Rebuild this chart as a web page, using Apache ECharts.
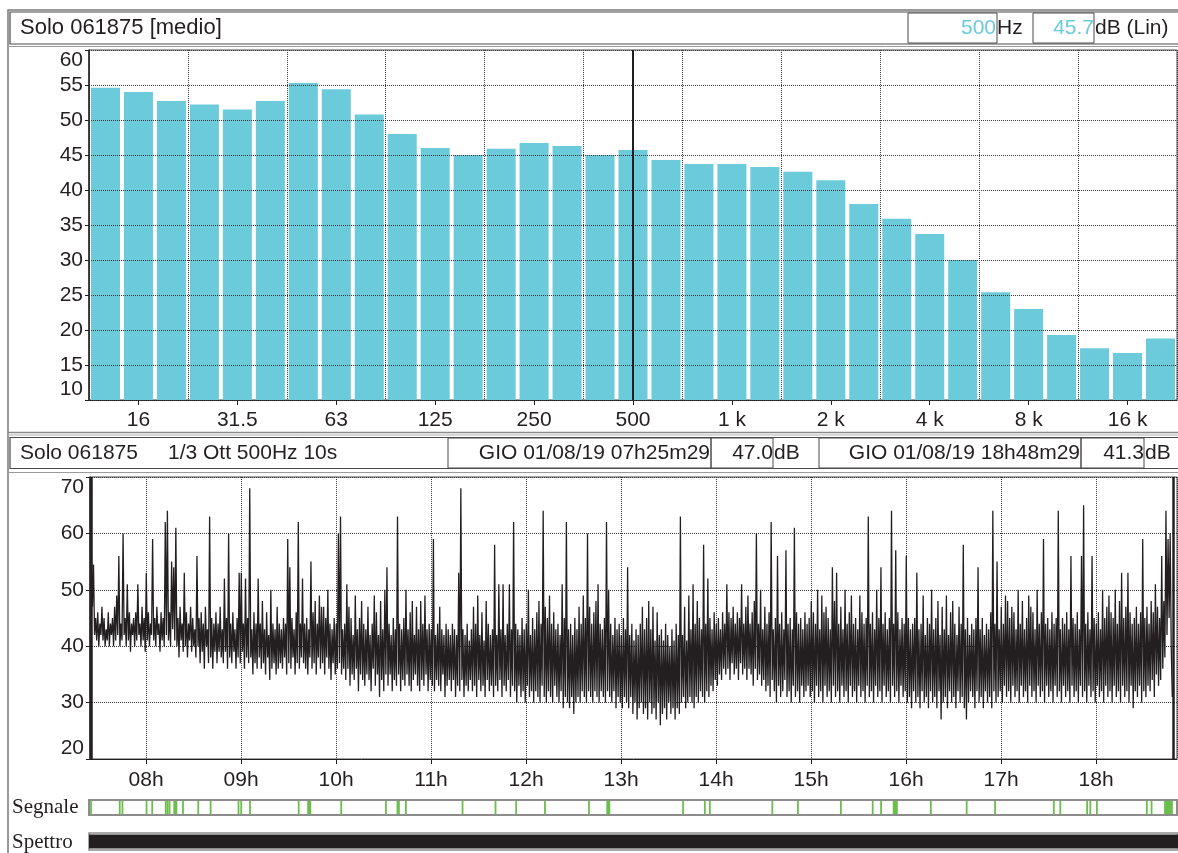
<!DOCTYPE html>
<html>
<head>
<meta charset="utf-8">
<title>Solo 061875</title>
<script src="https://cdn.jsdelivr.net/npm/echarts@6/dist/echarts.min.js"></script>
<style>
  html, body { margin: 0; padding: 0; background: #fff; }
  #main { width: 1178px; height: 853px; }
</style>
</head>
<body>
<div id="main"></div>
<script>
// spettro medio 1/3 ottava
const bande = ['12.5', '16', '20', '25', '31.5', '40', '50', '63', '80', '100', '125', '160', '200', '250', '315', '400',
  '500', '630', '800', '1 k', '1.25 k', '1.6 k', '2 k', '2.5 k', '3.15 k', '4 k', '5 k', '6.3 k', '8 k', '10 k', '12.5 k', '16 k', '20 k'];
const livelliMedi = [54.6, 54.0, 52.7, 52.2, 51.5, 52.7, 55.3, 54.4, 50.8, 48.0, 46.0, 45.0, 45.9, 46.7, 46.3, 45.0,
  45.7, 44.3, 43.7, 43.7, 43.3, 42.6, 41.4, 38.0, 35.9, 33.7, 30.0, 25.4, 23.0, 19.3, 17.4, 16.7, 18.8];
const cursoreBanda = '500';
const cursoreHz = '500';
const cursoreDb = '45.7';

// andamento 1/3 ott 500Hz (un valore ogni 40 s)
const inizio = '07:25:29';
const fine = '18:48:29';
const passoSec = 40;
const livelliTempo = [
  56.5, 47, 54.5, 42, 45, 41, 46, 40, 44, 42, 47, 41, 45, 40, 43, 41, 46, 40, 44, 42,
  45, 40, 47, 41, 49, 42, 56, 40, 44, 41, 60, 42, 45, 40, 51, 41, 46, 39, 44, 42,
  45, 40, 46, 41, 51, 42, 44, 40, 47, 41, 45, 39, 53, 41, 46, 40, 44, 42, 59, 41,
  45, 40, 47, 42, 44, 39, 46, 41, 45, 40, 62, 42, 64, 41, 46, 40, 55, 43, 54, 41,
  61, 40, 45, 38, 47, 41, 44, 39, 53, 40, 46, 38, 44, 41, 47, 39, 45, 40, 43, 38,
  56, 40, 45, 37, 46, 39, 44, 36, 47, 40, 43, 37, 63, 38, 45, 36, 44, 39, 46, 37,
  44, 39, 47, 38, 43, 37, 52, 39, 45, 36, 60, 38, 44, 37, 46, 39, 43, 36, 45, 38,
  53, 37, 53, 39, 44, 36, 52, 38, 45, 37, 68, 38, 43, 35, 46, 37, 44, 36, 52, 38,
  44, 36, 48, 37, 43, 35, 46, 38, 42, 34, 50, 36, 44, 37, 43, 35, 47, 36, 44, 37,
  43, 36, 45, 38, 44, 35, 59, 37, 54, 36, 45, 38, 43, 35, 46, 37, 62, 36, 44, 38,
  52, 37, 44, 36, 45, 35, 43, 38, 55, 36, 46, 37, 48, 35, 44, 38, 49, 36, 47, 37,
  47, 35, 45, 38, 50, 36, 44, 34, 43, 37, 45, 35, 44, 36, 60, 37, 63, 35, 43, 36,
  44, 34, 51, 36, 47, 33, 45, 35, 42, 34, 49, 36, 43, 32, 45, 35, 48, 34, 44, 33,
  43, 35, 47, 34, 42, 32, 44, 36, 49, 33, 46, 35, 42, 31, 48, 34, 43, 32, 50, 35,
  54, 33, 44, 35, 42, 32, 45, 34, 43, 33, 63, 35, 44, 32, 43, 34, 45, 33, 50, 35,
  43, 33, 46, 32, 48, 34, 42, 35, 47, 33, 43, 32, 48, 34, 44, 33, 49, 35, 43, 32,
  44, 34, 43, 33, 59, 32, 42, 34, 44, 33, 47, 32, 43, 35, 42, 31, 44, 33, 43, 34,
  42, 32, 44, 34, 43, 31, 42, 33, 53, 32, 68, 34, 43, 31, 42, 33, 44, 32, 41, 34,
  43, 32, 47, 33, 44, 31, 49, 34, 42, 32, 46, 33, 41, 31, 48, 34, 44, 32, 42, 33,
  43, 31, 58, 33, 42, 32, 51, 34, 43, 31, 51, 33, 42, 32, 44, 34, 51, 31, 43, 33,
  62, 32, 44, 30, 43, 33, 42, 31, 45, 32, 43, 30, 44, 33, 50, 31, 42, 32, 45, 30,
  43, 32, 46, 31, 48, 30, 44, 33, 64, 31, 47, 30, 45, 32, 49, 31, 44, 30, 46, 33,
  43, 31, 44, 30, 42, 32, 51, 29, 45, 31, 62, 30, 43, 29, 44, 31, 42, 28, 45, 30,
  43, 31, 47, 30, 44, 32, 49, 31, 45, 30, 60, 32, 47, 31, 44, 30, 46, 32, 48, 31,
  51, 30, 44, 32, 43, 31, 45, 30, 62, 32, 50, 31, 44, 30, 42, 32, 45, 29, 43, 31,
  44, 30, 42, 29, 45, 31, 43, 30, 54, 29, 42, 31, 44, 28, 41, 30, 43, 27, 42, 29,
  44, 30, 47, 28, 43, 29, 45, 27, 48, 30, 43, 28, 47, 29, 41, 27, 46, 30, 42, 26,
  43, 28, 41, 29, 44, 27, 42, 30, 40, 28, 43, 29, 41, 27, 44, 29, 42, 28, 63, 30,
  42, 31, 47, 29, 41, 30, 49, 31, 43, 30, 51, 29, 44, 31, 48, 30, 45, 32, 43, 31,
  58, 30, 44, 32, 52, 31, 45, 33, 43, 32, 46, 34, 44, 33, 45, 35, 43, 34, 46, 36,
  44, 35, 51, 36, 46, 34, 45, 37, 47, 35, 44, 36, 46, 34, 45, 37, 51, 35, 44, 36,
  47, 34, 49, 36, 44, 35, 46, 33, 48, 36, 60, 34, 44, 35, 50, 33, 43, 34, 47, 32,
  44, 33, 46, 31, 62, 34, 43, 32, 45, 30, 56, 33, 44, 31, 46, 32, 43, 34, 57, 31,
  44, 32, 45, 30, 43, 33, 61, 31, 46, 32, 44, 30, 45, 33, 43, 31, 46, 32, 44, 33,
  45, 31, 48, 32, 46, 30, 44, 33, 50, 31, 43, 32, 49, 30, 46, 33, 47, 31, 45, 32,
  43, 30, 54, 33, 48, 31, 53, 32, 44, 30, 47, 33, 43, 31, 50, 32, 44, 30, 46, 33,
  49, 31, 44, 32, 45, 30, 43, 33, 49, 31, 46, 32, 44, 30, 45, 33, 63, 31, 44, 32,
  46, 30, 43, 33, 50, 31, 45, 32, 54, 30, 44, 33, 46, 31, 43, 32, 45, 30, 64, 33,
  44, 31, 57, 32, 46, 30, 43, 33, 45, 31, 44, 32, 56, 30, 45, 31, 43, 29, 44, 32,
  45, 30, 53, 31, 43, 29, 44, 32, 49, 30, 42, 31, 45, 29, 44, 32, 50, 30, 43, 31,
  45, 29, 48, 32, 42, 27, 47, 30, 43, 31, 49, 29, 42, 32, 46, 30, 48, 31, 44, 29,
  42, 32, 47, 30, 44, 31, 58, 29, 43, 27, 45, 30, 42, 32, 44, 31, 43, 29, 45, 32,
  54, 30, 43, 31, 45, 29, 42, 32, 44, 30, 43, 31, 46, 29, 64, 32, 44, 30, 55, 31,
  43, 32, 47, 30, 44, 33, 49, 31, 48, 32, 45, 30, 47, 33, 46, 31, 43, 32, 50, 30,
  44, 33, 48, 31, 43, 32, 45, 30, 49, 33, 47, 31, 46, 32, 43, 30, 50, 33, 44, 31,
  46, 32, 59, 30, 44, 33, 45, 31, 43, 32, 46, 30, 44, 33, 45, 31, 64, 32, 43, 30,
  45, 33, 44, 31, 46, 32, 43, 30, 56, 33, 45, 31, 44, 32, 46, 30, 43, 33, 56, 31,
  65, 32, 44, 30, 46, 33, 43, 31, 56, 32, 45, 30, 44, 33, 46, 31, 43, 32, 50, 30,
  45, 33, 47, 31, 49, 32, 46, 30, 45, 33, 50, 31, 44, 32, 48, 30, 53, 33, 45, 31,
  47, 32, 53, 30, 46, 33, 44, 29, 45, 32, 47, 31, 44, 33, 46, 30, 59, 32, 45, 31,
  47, 33, 44, 32, 48, 34, 46, 31, 51, 35, 47, 33, 45, 34, 56, 36, 48, 38, 64, 42,
  59, 45, 60, 40, 31
];
const leqInizio = '47.0';
const leqFine = '41.3';

// eventi segnale: [ora inizio, durata in s]
const segnale = [
  ['07:25:46', 10], ['07:43:54', 10], ['07:45:36', 10], ['08:00:49', 10], ['08:04:25', 10],
  ['08:12:57', 10], ['08:14:09', 10], ['08:15:21', 10], ['08:17:50', 150], ['08:23:49', 10],
  ['08:33:28', 10], ['08:41:15', 10], ['08:58:52', 10], ['09:00:34', 10], ['09:06:08', 10],
  ['09:36:49', 10], ['09:42:18', 150], ['10:03:40', 10], ['10:31:54', 10], ['10:39:09', 10],
  ['10:40:05', 10], ['10:44:28', 10], ['11:20:13', 10], ['11:41:03', 10], ['11:54:04', 10],
  ['12:12:14', 10], ['12:40:01', 10], ['12:51:02', 150], ['13:39:22', 10], ['13:53:07', 10],
  ['13:56:16', 10], ['14:35:42', 10], ['14:51:50', 10], ['15:18:57', 10], ['15:39:02', 10],
  ['15:44:20', 10], ['15:51:47', 190], ['16:15:43', 10], ['16:38:20', 10], ['16:56:15', 10],
  ['17:33:20', 10], ['17:37:25', 10], ['17:54:20', 10], ['17:56:20', 10], ['18:00:30', 10],
  ['18:32:00', 10], ['18:35:00', 10], ['18:43:00', 330]
];
// spettro registrato: [inizio, fine]
const spettro = [['07:24:36', '18:51:08']];
const asseInizio = '07:24:36';
const asseFine = '18:51:08';

function ora(s) {
  const p = s.split(':').map(Number);
  return new Date(2019, 7, 1, p[0], p[1], p[2]).getTime();
}

const t0 = ora(inizio);
const serieTempo = livelliTempo.map((v, i) => [t0 + i * passoSec * 1000, v]);
const serieSegnale = segnale.map(e => [ora(e[0]), ora(e[0]) + e[1] * 1000]);
const serieSpettro = spettro.map(e => [ora(e[0]), ora(e[1])]);

const NERO = '#231f20';
const CIANO = '#6ccbdb';
const FONT = '"Liberation Sans", Arial, sans-serif';
const dotted = { show: true, lineStyle: { color: '#3a3a3a', width: 1, type: [1, 1] } };
const ogniTerza = (i) => i % 3 === 1;

function fascia(fill, minW, inset) {
  return function (params, api) {
    const a = api.coord([api.value(0), 0]);
    const b = api.coord([api.value(1), 1]);
    let w = b[0] - a[0];
    let x = a[0];
    if (w < minW) { x -= (minW - w) / 2; w = minW; }
    return {
      type: 'rect',
      shape: { x: x, y: b[1] + inset, width: w, height: a[1] - b[1] - 2 * inset },
      style: { fill: fill }
    };
  };
}

function testo(t, x, y, opts) {
  opts = opts || {};
  return {
    type: 'text', z: 20,
    style: {
      text: t, x: x, y: y,
      font: opts.font || ('21px ' + FONT),
      fill: opts.fill || NERO,
      textAlign: opts.align || 'left',
      textVerticalAlign: 'middle'
    }
  };
}
function box(x, y, w, h, stroke, lw) {
  return {
    type: 'rect', z: 19,
    shape: { x: x, y: y, width: w, height: h },
    style: { fill: 'none', stroke: stroke || '#4a4a4a', lineWidth: lw || 1 }
  };
}
function riga(x1, y1, x2, y2, stroke, lw) {
  return {
    type: 'line', z: 19,
    shape: { x1: x1, y1: y1, x2: x2, y2: y2 },
    style: { stroke: stroke, lineWidth: lw || 1 }
  };
}

var myChart = echarts.init(document.getElementById('main'));
var option = {
  animation: false,
  backgroundColor: '#fff',
  grid: [
    { left: 89, top: 50, width: 1088, height: 350, show: true, borderColor: '#444', borderWidth: 1 },
    { left: 90, top: 477, width: 1087, height: 282, show: true, borderColor: '#444', borderWidth: 1 },
    { left: 89, top: 800, width: 1088, height: 15, show: true, borderColor: '#8c8c8c', borderWidth: 2 },
    { left: 89, top: 833, width: 1089, height: 17, show: true, borderColor: '#8c8c8c', borderWidth: 1.5 }
  ],
  xAxis: [
    {
      type: 'category', gridIndex: 0, data: bande,
      axisLine: { lineStyle: { color: NERO, width: 1 } },
      axisTick: { show: true, alignWithLabel: true, interval: ogniTerza, length: 5, lineStyle: { color: NERO } },
      axisLabel: { interval: ogniTerza, color: NERO, fontSize: 21, fontFamily: FONT, margin: 10 },
      splitLine: { show: false }
    },
    {
      type: 'value', gridIndex: 0, min: 0, max: 33, interval: 3, z: 5,
      axisLine: { show: false }, axisTick: { show: false }, axisLabel: { show: false },
      splitLine: dotted
    },
    {
      type: 'time', gridIndex: 1, min: ora(asseInizio), max: ora(asseFine),
      minInterval: 3600 * 1000, maxInterval: 3600 * 1000,
      axisLine: { lineStyle: { color: NERO, width: 1 } },
      axisTick: { show: true, length: 5, lineStyle: { color: NERO } },
      axisLabel: {
        color: NERO, fontSize: 21, fontFamily: FONT, margin: 11,
        showMinLabel: false, showMaxLabel: false,
        formatter: function (v) {
          return String(new Date(v).getHours()).padStart(2, '0') + 'h';
        }
      },
      splitLine: dotted
    },
    { type: 'time', gridIndex: 2, min: ora(asseInizio), max: ora(asseFine), show: false },
    { type: 'time', gridIndex: 3, min: ora(asseInizio), max: ora(asseFine), show: false }
  ],
  yAxis: [
    {
      type: 'value', gridIndex: 0, min: 10, max: 60, interval: 5, z: 5,
      axisLine: { show: true, lineStyle: { color: NERO, width: 1.5 } },
      axisTick: { show: true, length: 4, lineStyle: { color: NERO } },
      axisLabel: {
        color: NERO, fontSize: 21, fontFamily: FONT, margin: 6,
        verticalAlignMaxLabel: 'top', verticalAlignMinLabel: 'bottom'
      },
      splitLine: dotted
    },
    {
      type: 'value', gridIndex: 1, min: 20, max: 70, interval: 10,
      axisLine: { show: true, lineStyle: { color: NERO, width: 1.5 } },
      axisTick: { show: true, length: 4, lineStyle: { color: NERO } },
      axisLabel: {
        color: NERO, fontSize: 21, fontFamily: FONT, margin: 6,
        verticalAlignMaxLabel: 'top', verticalAlignMinLabel: 'bottom'
      },
      splitLine: dotted
    },
    { type: 'value', gridIndex: 2, min: 0, max: 1, show: false },
    { type: 'value', gridIndex: 3, min: 0, max: 1, show: false }
  ],
  series: [
    {
      name: 'medio', type: 'bar', xAxisIndex: 0, yAxisIndex: 0,
      data: livelliMedi, barCategoryGap: '12%',
      itemStyle: { color: CIANO },
      markLine: {
        silent: true, symbol: 'none', label: { show: false },
        lineStyle: { color: NERO, width: 2, type: 'solid' },
        data: [{ xAxis: cursoreBanda }]
      }
    },
    {
      name: '500Hz', type: 'line', xAxisIndex: 2, yAxisIndex: 1,
      data: serieTempo, showSymbol: false, sampling: false,
      lineStyle: { color: NERO, width: 1.3 },
      markLine: {
        silent: true, symbol: 'none', label: { show: false },
        lineStyle: { color: NERO, width: 2.5, type: 'solid' },
        data: [{ xAxis: ora(inizio) }, { xAxis: ora(fine) }]
      }
    },
    {
      name: 'Segnale', type: 'custom', xAxisIndex: 3, yAxisIndex: 2,
      data: serieSegnale, encode: { x: [0, 1] },
      renderItem: fascia('#6abf4b', 1.8, 1)
    },
    {
      name: 'Spettro', type: 'custom', xAxisIndex: 4, yAxisIndex: 3,
      data: serieSpettro, encode: { x: [0, 1] },
      renderItem: fascia(NERO, 1, 1.5)
    }
  ],
  graphic: [
    box(8, 10, 1175, 860, '#7a7a7a', 1.5),
    // testata superiore
    box(10, 12, 1170, 32, '#4a4a4a', 1.2),
    riga(8, 46.5, 1178, 46.5, '#9a9a9a', 1),
    testo('Solo 061875 [medio]', 20, 28, { font: '22px ' + FONT }),
    box(908, 13, 89, 30),
    testo(cursoreHz, 996, 28, { fill: CIANO, align: 'right' }),
    testo('Hz', 997, 28),
    box(1033, 13, 61, 30),
    testo(cursoreDb, 1094, 28, { fill: CIANO, align: 'right' }),
    testo('dB (Lin)', 1095, 28),
    // separatore
    riga(8, 432.5, 1178, 432.5, '#8a8a8a', 1.5),
    riga(8, 435, 1178, 435, '#b0b0b0', 1),
    // testata inferiore
    box(10, 437.5, 1170, 31, '#4a4a4a', 1.2),
    riga(8, 472.5, 1178, 472.5, '#9a9a9a', 1),
    testo('Solo 061875', 20, 453),
    testo('1/3 Ott 500Hz 10s', 168, 453),
    box(448, 438, 263, 30),
    testo('GIO 01/08/19 07h25m29', 710, 453, { align: 'right' }),
    box(711, 438, 62, 30),
    testo(leqInizio, 773, 453, { align: 'right' }),
    testo('dB', 774, 453),
    box(819, 438, 262, 30),
    testo('GIO 01/08/19 18h48m29', 1080, 453, { align: 'right' }),
    box(1081, 438, 63, 30),
    testo(leqFine, 1144, 453, { align: 'right' }),
    testo('dB', 1145, 453),
    // strisce
    testo('Segnale', 12, 807, { font: '21px "Liberation Serif", "Times New Roman", serif' }),
    testo('Spettro', 12, 842, { font: '21px "Liberation Serif", "Times New Roman", serif' })
  ]
};

option && myChart.setOption(option);
</script>
</body>
</html>
